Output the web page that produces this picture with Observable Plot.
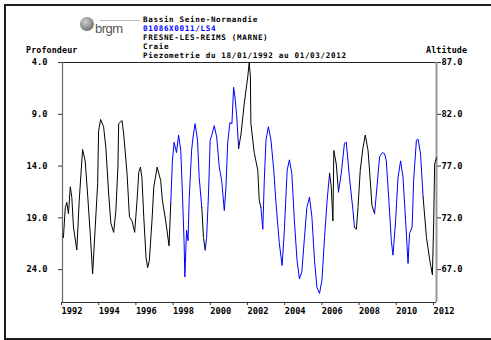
<!DOCTYPE html>
<html><head><meta charset="utf-8">
<script src="https://cdn.jsdelivr.net/npm/d3@7"></script>
<script src="https://cdn.jsdelivr.net/npm/@observablehq/plot@0.6"></script>
<style>
html,body{margin:0;padding:0;background:#fff;}
#wrap{position:relative;width:491px;height:340px;overflow:hidden;font-family:"DejaVu Sans Mono",monospace;font-weight:bold;color:#000;}
#wrap svg{position:absolute;left:0;top:0;}
.t{position:absolute;white-space:pre;font-size:7.6px;letter-spacing:0.65px;line-height:8.85px;height:8.85px;}
.a{position:absolute;white-space:pre;font-size:8.4px;letter-spacing:0.1px;line-height:9.8px;}
#frame{position:absolute;left:4px;top:4px;width:540px;height:336px;border:2px solid #1e1e1e;box-sizing:border-box;pointer-events:none;}
#ball{position:absolute;left:80px;top:17px;width:14px;height:14px;border-radius:50%;background:radial-gradient(circle at 40% 35%,#d0d0d0,#8a8a8a 55%,#5a5a5a);}
#brgm{position:absolute;left:95px;top:21.5px;font-family:"Liberation Sans",Arial,sans-serif;font-weight:normal;font-size:13px;line-height:14px;color:#555;letter-spacing:-0.5px;}
#tiny{position:absolute;left:100px;top:20px;width:40px;height:1px;background:#b8b8b8;}
</style>
</head><body>
<div id="wrap"></div>
<script>
// Station info
const bassin = "Bassin Seine-Normandie";
const codeBSS = "01086X0011/LS4";
const commune = "FRESNE-LES-REIMS (MARNE)";
const nappe = "Craie";
const periode = "Piezometrie du 18/01/1992 au 01/03/2012";
const leftTitle = "Profondeur";
const rightTitle = "Altitude";

// Axis ticks
const depthTicks = [4, 9, 14, 19, 24];
const depthLabels = ["4.0", "9.0", "14.0", "19.0", "24.0"];
const altitudeLabels = ["87.0", "82.0", "77.0", "72.0", "67.0"];
const yearTicks = [1992, 1994, 1996, 1998, 2000, 2002, 2004, 2006, 2008, 2010, 2012];
const yearDomain = [1992, 2012.11];
const depthDomain = [4, 27.17];

// Series: date (decimal year), depth (m), code (0 = black, 1 = blue)
const years = [
1992.05,1992.15,1992.23,1992.32,1992.42,1992.50,1992.59,1992.77,1992.90,1993.08,
1993.22,1993.36,1993.49,1993.62,1993.76,1993.89,1993.94,1994.05,1994.21,1994.33,
1994.48,1994.60,1994.75,1994.87,1994.98,1995.02,1995.20,1995.29,1995.47,1995.60,
1995.74,1995.88,1996.01,1996.10,1996.19,1996.27,1996.37,1996.49,1996.58,1996.67,
1996.81,1996.91,1997.09,1997.28,1997.37,1997.55,1997.73,1997.82,1997.91,1998.00,
1998.13,1998.24,1998.36,1998.45,1998.54,1998.58,1998.67,1998.75,1998.81,1998.94,
1999.02,1999.13,1999.26,1999.35,1999.49,1999.58,1999.67,1999.75,1999.85,1999.94,
2000.03,2000.16,2000.29,2000.43,2000.56,2000.70,2000.79,2000.88,2001.00,2001.11,
2001.20,2001.27,2001.36,2001.47,2001.60,2001.77,2001.96,2002.04,2002.10,2002.13,
2002.31,2002.50,2002.58,2002.67,2002.77,2002.85,2002.94,2003.07,2003.21,2003.36,
2003.48,2003.66,2003.81,2003.93,2004.08,2004.20,2004.33,2004.47,2004.61,2004.74,
2004.87,2005.01,2005.14,2005.28,2005.41,2005.55,2005.68,2005.82,2005.95,2006.09,
2006.23,2006.36,2006.45,2006.54,2006.59,2006.72,2006.84,2006.99,2007.16,2007.26,
2007.43,2007.62,2007.70,2007.80,2007.89,2008.01,2008.16,2008.28,2008.43,2008.55,
2008.64,2008.78,2008.91,2009.05,2009.20,2009.32,2009.41,2009.56,2009.68,2009.77,
2009.91,2010.04,2010.18,2010.31,2010.45,2010.58,2010.66,2010.80,2010.88,2011.03,
2011.12,2011.25,2011.39,2011.57,2011.75,2011.89,2011.96,2012.01,2012.11
];
const depths = [
20.9,18.0,17.5,18.6,16.0,17.0,19.9,22.1,17.3,12.4,
13.5,17.0,20.5,24.4,19.9,15.7,10.6,9.5,10.2,12.2,
16.6,19.5,20.4,18.3,14.1,9.9,9.6,10.9,14.7,18.9,
19.3,20.4,17.3,14.6,14.1,15.1,18.9,22.8,23.8,23.1,
19.3,16.0,14.1,15.4,17.3,19.3,21.7,17.6,13.5,11.7,
12.7,11.0,12.5,16.7,21.5,24.7,20.2,21.2,17.3,12.5,
11.2,9.9,11.5,15.1,18.0,20.9,22.1,20.9,16.7,11.5,
11.0,10.1,11.2,14.1,15.4,18.3,16.0,11.8,9.8,9.9,
6.4,7.3,9.0,12.3,10.9,8.0,5.4,4.0,5.3,9.9,
12.7,14.4,17.3,18.0,20.1,15.4,11.5,10.2,11.5,14.4,
17.6,21.5,23.6,20.2,14.4,13.4,14.7,19.3,23.1,24.9,
24.2,20.9,18.0,17.0,18.9,23.1,25.7,26.3,25.0,20.9,
17.3,14.7,16.0,19.3,12.5,13.8,16.5,14.7,11.8,11.7,
15.1,18.3,19.9,20.1,18.0,14.4,12.2,11.0,12.5,15.4,
17.8,18.6,16.0,13.1,12.7,12.8,13.5,17.6,21.2,22.6,
19.3,15.1,13.5,15.1,19.3,23.4,20.5,19.9,15.4,11.5,
11.4,12.8,17.0,20.9,23.1,24.5,19.3,13.8,13.2
];
const codes = [
0,0,0,0,0,0,0,0,0,0,
0,0,0,0,0,0,0,0,0,0,
0,0,0,0,0,0,0,0,0,0,
0,0,0,0,0,0,0,0,0,0,
0,0,0,0,0,0,0,1,1,1,
1,1,1,1,1,1,1,1,1,1,
1,1,1,1,0,0,1,1,1,1,
1,1,1,1,1,1,1,1,1,1,
1,1,1,0,0,0,0,0,0,0,
0,0,0,1,1,1,1,1,1,1,
1,1,1,1,1,1,1,1,1,1,
1,1,1,1,1,1,1,1,1,1,
1,0,0,0,0,0,1,1,1,1,
1,1,0,0,0,0,0,0,0,0,
0,1,1,1,1,1,1,1,1,1,
1,1,1,1,1,1,1,1,1,1,
1,1,0,0,0,0,0,0,0
];
const codeColors = ["#000000", "#0000ff"];

// Build continuous coloured segments
const rows = [];
let seg = 0;
rows.push({year: years[0], depth: depths[0], seg, code: codes[0]});
for (let i = 1; i < years.length; i++) {
  if (codes[i] !== codes[i - 1]) {
    rows.push({year: years[i], depth: depths[i], seg, code: codes[i - 1]});
    seg++;
  }
  rows.push({year: years[i], depth: depths[i], seg, code: codes[i]});
}

const chart = Plot.plot({
  width: 491,
  height: 340,
  marginLeft: 62,
  marginRight: 55,
  marginTop: 62,
  marginBottom: 38,
  style: {fontFamily: '"DejaVu Sans Mono", monospace', fontSize: "8.7px", fontWeight: "bold", background: "transparent", color: "#000"},
  x: {domain: yearDomain},
  y: {domain: depthDomain, reverse: true},
  color: {type: "identity"},
  marks: [
    Plot.ruleY([depthDomain[0]], {stroke: "#222", strokeWidth: 1}),
    Plot.ruleY([depthDomain[1]], {stroke: "#333", strokeWidth: 1.2}),
    Plot.ruleX([yearDomain[0]], {stroke: "#666", strokeWidth: 1.2}),
    Plot.ruleX([yearDomain[1]], {stroke: "#999", strokeWidth: 2}),
    Plot.line(rows, {x: "year", y: "depth", z: "seg", stroke: d => codeColors[d.code], strokeWidth: 1, curve: "linear"}),
    Plot.axisY(depthTicks, {anchor: "left", tickSize: 4, tickPadding: 11, stroke: "#333", tickFormat: (d, i) => depthLabels[i], label: null}),
    Plot.axisY(depthTicks, {anchor: "right", tickSize: 4, tickPadding: 1, stroke: "#333", tickFormat: (d, i) => altitudeLabels[i], label: null}),
    Plot.axisX(yearTicks, {anchor: "bottom", tickSize: 3, tickPadding: 2, stroke: "#333", textAnchor: "start", dx: -1, tickFormat: d => String(d), label: null})
  ]
});
const wrap = document.getElementById("wrap");
wrap.appendChild(chart);

function addText(txt, cls, left, top, color) {
  const d = document.createElement("div");
  d.className = cls;
  d.textContent = txt;
  d.style.left = left + "px";
  d.style.top = top + "px";
  if (color) d.style.color = color;
  wrap.appendChild(d);
}
// header lines, centres ~20.4, 29.3, 38.2, 47.1, 56
addText(bassin, "t", 143, 16.1);
addText(codeBSS, "t", 143, 25.0, "#0000ff");
addText(commune, "t", 143, 33.9);
addText(nappe, "t", 143, 42.8);
addText(periode, "t", 143, 51.7);
addText(leftTitle, "a", 26, 46.4);
addText(rightTitle, "a", 426, 46.4);

const ball = document.createElement("div"); ball.id = "ball"; wrap.appendChild(ball);
const tiny = document.createElement("div"); tiny.id = "tiny"; wrap.appendChild(tiny);
const brgm = document.createElement("div"); brgm.id = "brgm"; brgm.textContent = "brgm"; wrap.appendChild(brgm);
const frame = document.createElement("div"); frame.id = "frame"; wrap.appendChild(frame);
</script>
</body></html>
